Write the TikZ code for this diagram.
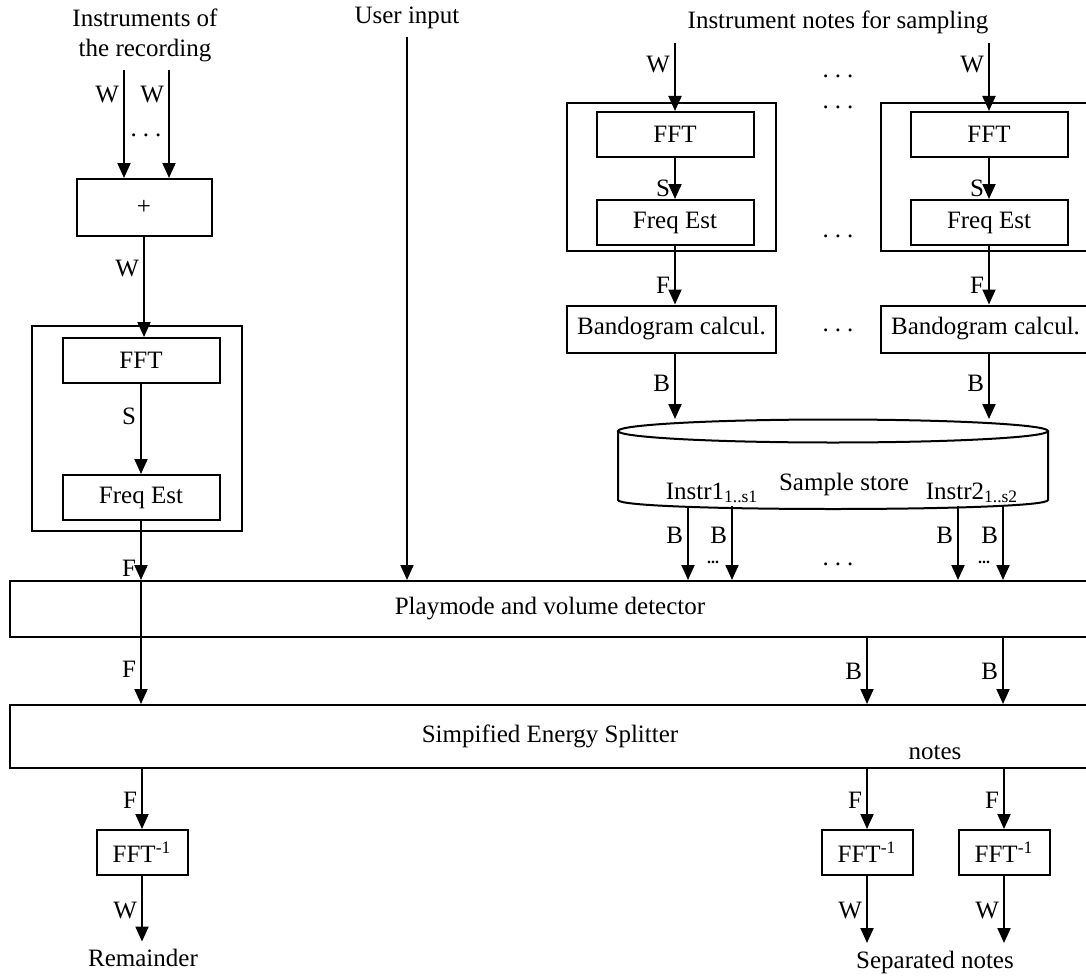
\documentclass[tikz,border=0pt]{standalone}
\usepackage{fontspec}
\setmainfont{Liberation Serif}
\usetikzlibrary{positioning,arrows.meta}
\tikzstyle{block} = [draw, rectangle, line width=1pt, inner sep=0pt, minimum height=22.5pt, minimum width=78.5pt]
\tikzstyle{frame} = [draw, rectangle, line width=1pt, inner sep=0pt]
\tikzstyle{wide} = [draw, rectangle, line width=1pt, inner sep=0pt, minimum width=540pt]
\tikzstyle{lbl} = [left, inner sep=2pt]
\tikzstyle{coord} = [coordinate]
\tikzstyle{gap} = [inner sep=0pt]
\tikzstyle{few} = [inner sep=0pt, font=\fontsize{8}{8}\selectfont\bfseries]
\newcommand{\spdots}{.\kern3pt.\kern3pt.}

\begin{document}
\begin{tikzpicture}[x=0.5pt,y=-0.5pt,->,>={Triangle[length=7.5pt,width=6.5pt]},line width=1pt,font=\fontsize{12.5}{15}\selectfont]
	\useasboundingbox (0,0) rectangle (1086,979);

	% recording branch
	\node (rec) [align=center] at (145,35) {Instruments of\\the recording};
	\node (inA) [coord] at (124,70) {};
	\node (inB) [coord] at (169,70) {};
	\node (dotsA) [gap] at (146,135) {\spdots};
	\node (plus) [frame, minimum width=67.5pt, minimum height=28.5pt] at (144,207.5) {+};
	\node (boxA) [frame, minimum width=105pt, minimum height=102.5pt] at (137,428.5) {};
	\node (fftA) [block] at (141,360.5) {FFT};
	\node (festA) [block, below=45pt of fftA] {Freq Est};

	% user input
	\node (user) at (407,18) {User input};

	% sampling branch
	\node (samp) at (838,22) {Instrument notes for sampling};
	\node (inC) [coord] at (675,43) {};
	\node (inD) [coord] at (989,43) {};
	\node (boxB) [frame, minimum width=104.5pt, minimum height=74pt] at (671.5,177) {};
	\node (boxC) [frame, minimum width=104.5pt, minimum height=74pt] at (985.5,177) {};
	\node (fftB) [block] at (675,134.5) {FFT};
	\node (fftC) [block] at (989,134.5) {FFT};
	\node (festB) [block, below=20.5pt of fftB] {Freq Est};
	\node (festC) [block, below=20.5pt of fftC] {Freq Est};
	\node (bandB) [block, minimum width=104.5pt, minimum height=23.5pt] at (671.5,329) {Bandogram calcul.};
	\node (bandC) [block, minimum width=104.5pt, minimum height=23.5pt] at (985.5,329) {Bandogram calcul.};
	\node (dotsB) [gap] at (838,76) {\spdots};
	\node (dotsC) [gap] at (838,107) {\spdots};
	\node (dotsD) [gap] at (838,236) {\spdots};
	\node (dotsE) [gap] at (838,330) {\spdots};

	% sample store
	\draw[-] (618,431) -- (618,500) .. controls (618,512) and (1048,512) .. (1048,500) -- (1048,431);
	\draw[-] (833,431) ellipse [x radius=215, y radius=11.5];
	\node (storetop) [coord] at (833,419) {};
	\node (store) at (844,484) {Sample store};
	\node (instA) at (712,493) {Instr1\textsubscript{1..s1}};
	\node (instB) at (972,493) {Instr2\textsubscript{1..s2}};
	\node (outA) [coord] at (688,506) {};
	\node (outB) [coord] at (732,506) {};
	\node (outC) [coord] at (958,506) {};
	\node (outD) [coord] at (1003,506) {};
	\node (fewA) [few] at (713,562) {...};
	\node (fewB) [few] at (984,562) {...};
	\node (dotsF) [gap] at (838,564) {\spdots};

	% detector and splitter
	\node (play) [wide, minimum height=28pt] at (550,609) {Playmode and volume detector};
	\node (split) [wide, minimum height=31.5pt] at (550,736.5) {Simpified Energy Splitter};
	\node (notes) at (935,753) {notes};

	% outputs
	\node (invA) [block, minimum width=45.5pt] at (142,852.5) {FFT\textsuperscript{-1}};
	\node (invB) [block, minimum width=45.5pt] at (867,852.5) {FFT\textsuperscript{-1}};
	\node (invC) [block, minimum width=45.5pt] at (1004,852.5) {FFT\textsuperscript{-1}};
	\node (rem) at (143,958) {Remainder};
	\node (sep) at (935,962) {Separated notes};

	\draw (inA) -- node[lbl, pos=.23] {W} (inA |- plus.north);
	\draw (inB) -- node[lbl, pos=.23] {W} (inB |- plus.north);
	\draw (plus.south) -- node[lbl, pos=.32] {W} (plus.south |- fftA.north);
	\draw (fftA) -- node[lbl, pos=.36] {S} (festA);
	\draw (festA.south) -- node[lbl, pos=.8] {F} (festA.south |- play.north);
	\draw (festA.south |- play.north) -- node[lbl, pos=.72] {F} (festA.south |- split.north);

	\draw (user.south) -- (user.south |- play.north);

	\draw (inC) -- node[lbl, pos=.32] {W} (fftB);
	\draw (inD) -- node[lbl, pos=.32] {W} (fftC);
	\draw (fftB) -- node[lbl, pos=.73] {S} (festB);
	\draw (fftC) -- node[lbl, pos=.73] {S} (festC);
	\draw (festB.south) -- node[lbl, pos=.68] {F} (festB.south |- bandB.north);
	\draw (festC.south) -- node[lbl, pos=.68] {F} (festC.south |- bandC.north);
	\draw (festB.south |- bandB.south) -- node[lbl, pos=.45] {B} (festB.south |- storetop);
	\draw (festC.south |- bandC.south) -- node[lbl, pos=.45] {B} (festC.south |- storetop);

	\draw (outA) -- node[lbl, pos=.4] {B} (outA |- play.north);
	\draw (outB) -- node[lbl, pos=.4] {B} (outB |- play.north);
	\draw (outC) -- node[lbl, pos=.4] {B} (outC |- play.north);
	\draw (outD) -- node[lbl, pos=.4] {B} (outD |- play.north);

	\draw (invB |- play.south) -- node[lbl, pos=.5] {B} (invB |- split.north);
	\draw (outD |- play.south) -- node[lbl, pos=.5] {B} (outD |- split.north);

	\draw (invA |- split.south) -- node[lbl, pos=.52] {F} (invA);
	\draw (invB |- split.south) -- node[lbl, pos=.52] {F} (invB);
	\draw (invC |- split.south) -- node[lbl, pos=.52] {F} (invC);
	\draw (invA) -- node[lbl, pos=.52] {W} (invA |- rem.north);
	\draw (invB) -- node[lbl, pos=.52] {W} (invB |- sep.north);
	\draw (invC) -- node[lbl, pos=.52] {W} (invC |- sep.north);
\end{tikzpicture}
\end{document}
